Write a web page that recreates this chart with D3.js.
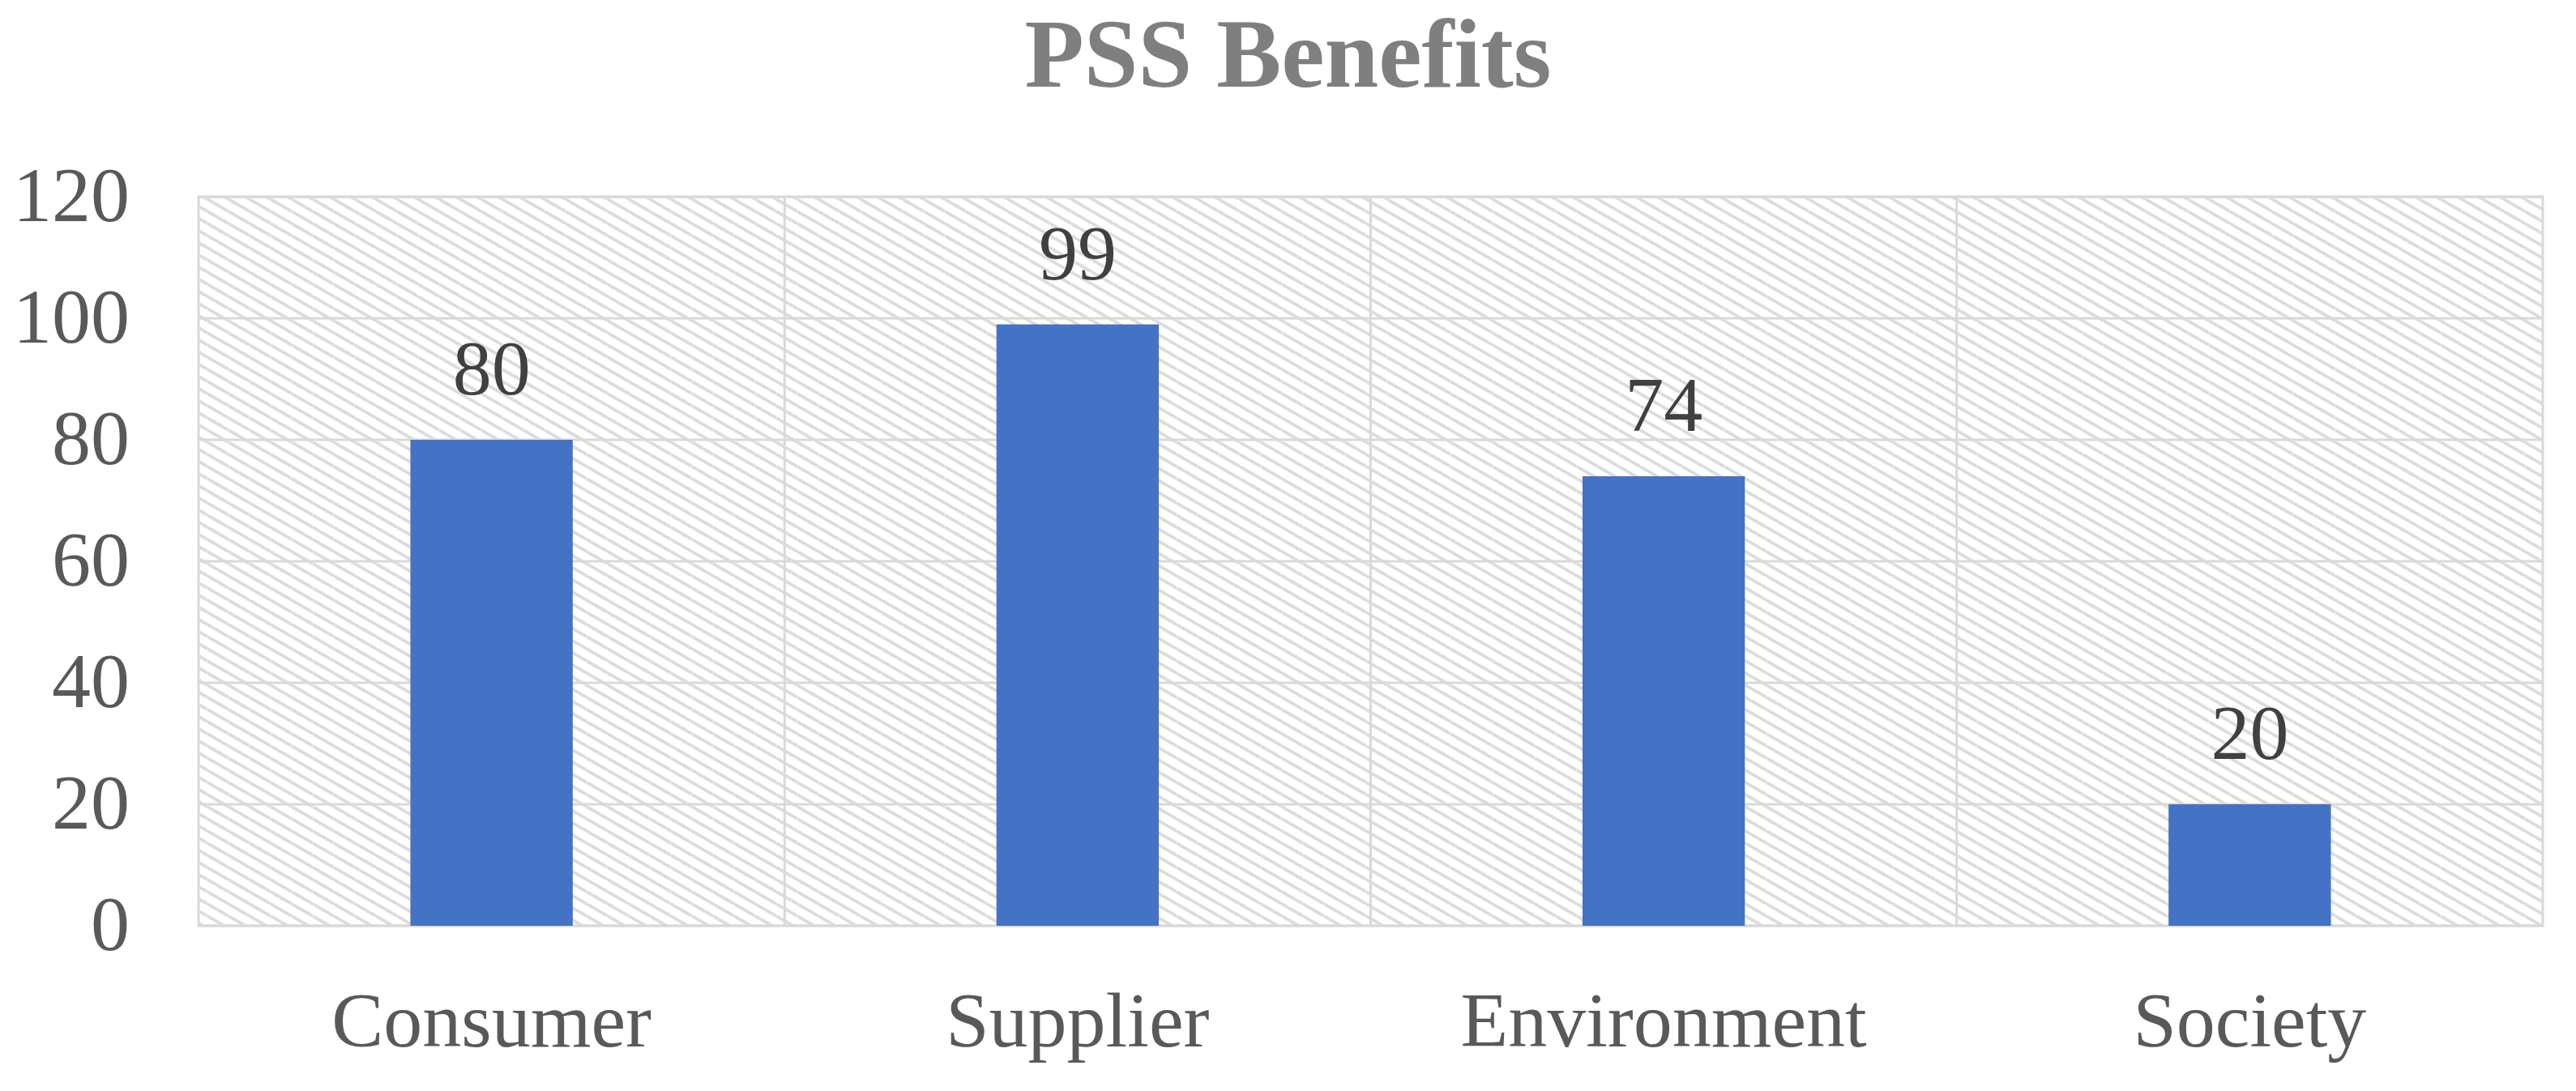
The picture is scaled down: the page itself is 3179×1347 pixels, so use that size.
<!DOCTYPE html>
<html>
<head>
<meta charset="utf-8">
<script src="https://cdn.jsdelivr.net/npm/d3@7"></script>
<style>
  html, body { margin: 0; padding: 0; background: #ffffff; }
  svg { display: block; }
</style>
</head>
<body>
<div id="chart"></div>
<script>
const categories = ["Consumer", "Supplier", "Environment", "Society"];
const values = [80, 99, 74, 20];
const yTicks = [0, 20, 40, 60, 80, 100, 120];
const title = "PSS Benefits";

const W = 3179, H = 1347;
const margin = { left: 245, right: W - 3138, top: 243, bottom: H - 1143 };
const iw = W - margin.left - margin.right;
const ih = H - margin.top - margin.bottom;

const svg = d3.select("#chart").append("svg")
  .attr("width", W).attr("height", H)
  .attr("viewBox", `0 0 ${W} ${H}`);

// Hatch pattern (downward diagonal)
const defs = svg.append("defs");
const pw = 26, ph = 15;
const pat = defs.append("pattern")
  .attr("id", "hatch")
  .attr("patternUnits", "userSpaceOnUse")
  .attr("x", margin.left).attr("y", margin.top)
  .attr("width", pw).attr("height", ph);
[-1, 0, 1].forEach(k => {
  pat.append("line")
    .attr("x1", 0).attr("y1", k * ph)
    .attr("x2", pw).attr("y2", k * ph + ph)
    .attr("stroke", "#dcdcdc")
    .attr("stroke-width", 3.8);
});

const x = d3.scaleBand()
  .domain(categories)
  .range([0, iw])
  .paddingInner(0.723)
  .paddingOuter(0.3615);
const xCat = d3.scaleBand().domain(categories).range([0, iw]).padding(0);
const y = d3.scaleLinear().domain([0, 120]).range([ih, 0]);

const g = svg.append("g").attr("transform", `translate(${margin.left},${margin.top})`);

// background with hatch
g.append("rect")
  .attr("x", 0).attr("y", 0).attr("width", iw).attr("height", ih)
  .attr("fill", "url(#hatch)");

// horizontal gridlines
g.append("g").selectAll("line").data(yTicks).join("line")
  .attr("x1", 0).attr("x2", iw)
  .attr("y1", d => y(d)).attr("y2", d => y(d))
  .attr("stroke", "#d9d9d9").attr("stroke-width", 3);

// vertical category separators
const seps = categories.slice(1).map(c => xCat(c));
g.append("g").selectAll("line").data(seps).join("line")
  .attr("x1", d => d).attr("x2", d => d)
  .attr("y1", 0).attr("y2", ih)
  .attr("stroke", "#d9d9d9").attr("stroke-width", 3);

// border
g.append("rect")
  .attr("x", 0).attr("y", 0).attr("width", iw).attr("height", ih)
  .attr("fill", "none").attr("stroke", "#d9d9d9").attr("stroke-width", 3);

// bars
g.append("g").selectAll("rect").data(values).join("rect")
  .attr("x", (d, i) => x(categories[i]))
  .attr("width", x.bandwidth())
  .attr("y", d => y(d))
  .attr("height", d => y(0) - y(d))
  .attr("fill", "#4472C4");

// data labels
g.append("g").selectAll("text").data(values).join("text")
  .attr("x", (d, i) => x(categories[i]) + x.bandwidth() / 2)
  .attr("y", d => y(d) - 56)
  .attr("text-anchor", "middle")
  .attr("font-family", "'Liberation Serif', 'Times New Roman', serif")
  .attr("font-size", 96)
  .attr("fill", "#404040")
  .text(d => d);

// y axis labels
const yAxis = d3.axisLeft(y).tickValues(yTicks).tickSize(0).tickPadding(85);
const ya = g.append("g").call(yAxis);
ya.select(".domain").remove();
ya.selectAll("text")
  .attr("font-family", "'Liberation Serif', 'Times New Roman', serif")
  .attr("font-size", 96)
  .attr("fill", "#595959")
  .attr("dy", "0.31em");

// x axis labels
const xAxis = d3.axisBottom(xCat).tickSize(0).tickPadding(0);
const xa = g.append("g").attr("transform", `translate(0,${ih})`).call(xAxis);
xa.select(".domain").remove();
xa.selectAll("text")
  .attr("font-family", "'Liberation Serif', 'Times New Roman', serif")
  .attr("font-size", 96)
  .attr("fill", "#595959")
  .attr("dy", null)
  .attr("y", 149);

// title
svg.append("text")
  .attr("x", W / 2).attr("y", 107)
  .attr("text-anchor", "middle")
  .attr("font-family", "'Liberation Serif', 'Times New Roman', serif")
  .attr("font-weight", "bold")
  .attr("font-size", 120)
  .attr("fill", "#7f7f7f")
  .text(title);
</script>
</body>
</html>
